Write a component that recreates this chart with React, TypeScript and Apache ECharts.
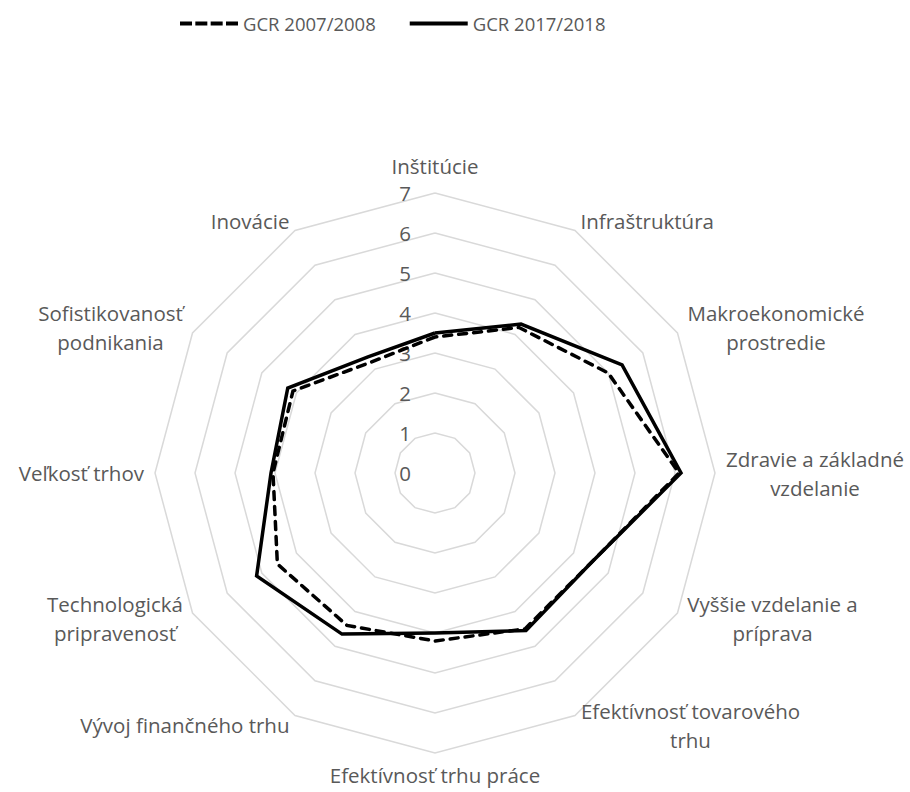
import React, { useEffect, useRef } from "react";
import * as echarts from "echarts";

// Indicators in clockwise order, starting at the top
const CATEGORIES = [
  "Inštitúcie",
  "Infraštruktúra",
  "Makroekonomické\nprostredie",
  "Zdravie a základné\nvzdelanie",
  "Vyššie vzdelanie a\npríprava",
  "Efektívnosť tovarového\ntrhu",
  "Efektívnosť trhu práce",
  "Vývoj finančného trhu",
  "Technologická\npripravenosť",
  "Veľkosť trhov",
  "Sofistikovanosť\npodnikania",
  "Inovácie",
];

const SERIES_NAMES = ["GCR 2007/2008", "GCR 2017/2018"];
const GCR_2007_2008 = [3.4, 4.2, 5.0, 6.1, 4.5, 4.5, 4.2, 4.4, 4.55, 4.05, 4.1, 3.2];
const GCR_2017_2018 = [3.5, 4.3, 5.4, 6.15, 4.5, 4.55, 4.0, 4.65, 5.15, 4.1, 4.25, 3.35];

const AXIS_MIN = 0;
const AXIS_MAX = 7;
const AXIS_SPLITS = 7;

const FONT = "Open Sans";
const LABEL_SIZE = 20.5;
const LEGEND_SIZE = 18.5;
const TEXT_COLOR = "#595959";

function measure(text: string, font: string): number {
  const ctx = document.createElement("canvas").getContext("2d");
  if (!ctx) return text.length * 10;
  ctx.font = font;
  return ctx.measureText(text).width;
}

export default function App() {
  const ref = useRef<HTMLDivElement>(null);

  useEffect(() => {
    document.body.style.margin = "0";
    if (!ref.current) return;
    const chart = echarts.init(ref.current, undefined, { renderer: "svg" });

    // ECharts lays indicators counter-clockwise; reorder to get a clockwise layout
    const order = CATEGORIES.map((_, i) => (i === 0 ? 0 : CATEGORIES.length - i));

    const labelFont = `${LABEL_SIZE}px "${FONT}"`;
    const baseText = { fontSize: LABEL_SIZE, fontFamily: FONT, color: TEXT_COLOR };
    const rich: Record<string, any> = {
      top: { ...baseText, lineHeight: 29, padding: [0, 0, 4, 0] },
      bot: { ...baseText, lineHeight: 21 },
    };
    const formatted: Record<string, string> = {};
    CATEGORIES.forEach((name, i) => {
      const lines = name.split("\n");
      if (lines.length === 1) {
        if (i === 0) formatted[name] = `{top|${name}}`;
        else if (i === 6) formatted[name] = `{bot|${name}}`;
        else formatted[name] = name;
        return;
      }
      const w = Math.ceil(Math.max(...lines.map((l) => measure(l, labelFont))));
      const key = "w" + w;
      rich[key] = { ...baseText, width: w, align: "center", lineHeight: 29 };
      formatted[name] = lines.map((l) => `{${key}|${l}}`).join("\n");
    });

    const indicator = order.map((idx, k) => {
      const ind: any = { name: CATEGORIES[idx], min: AXIS_MIN, max: AXIS_MAX };
      if (k === 0) {
        ind.axisLabel = {
          show: true,
          color: TEXT_COLOR,
          fontSize: LABEL_SIZE,
          fontFamily: FONT,
          margin: 24,
        };
      }
      return ind;
    });

    const dashIcon =
      "path://M0,0H12V4H0Z M15.33,0H27.33V4H15.33Z M30.67,0H42.67V4H30.67Z M46,0H58V4H46Z";

    chart.setOption({
      animation: false,
      color: ["#000000", "#000000"],
      legend: {
        left: 175,
        top: 9,
        itemWidth: 58,
        itemHeight: 4,
        itemGap: 34,
        textStyle: { color: TEXT_COLOR, fontSize: LEGEND_SIZE, fontFamily: FONT },
        itemStyle: { color: "#000000", borderWidth: 0, borderColor: "transparent" },
        data: [
          { name: SERIES_NAMES[0], icon: dashIcon },
          { name: SERIES_NAMES[1], icon: "rect" },
        ],
      },
      radar: {
        center: [435, 473],
        radius: 280,
        startAngle: 90,
        splitNumber: AXIS_SPLITS,
        shape: "polygon",
        nameGap: 11,
        axisName: {
          color: TEXT_COLOR,
          fontSize: LABEL_SIZE,
          fontFamily: FONT,
          lineHeight: 29,
          formatter: (name: string) => formatted[name] ?? name,
          rich,
        },
        indicator,
        axisLine: { show: false },
        axisTick: { show: false },
        axisLabel: { show: false },
        splitLine: { lineStyle: { color: "#d9d9d9", width: 1.5 } },
        splitArea: { show: false },
      },
      series: [
        {
          type: "radar",
          symbol: "none",
          data: [
            {
              name: SERIES_NAMES[0],
              value: order.map((i) => GCR_2007_2008[i]),
              lineStyle: {
                color: "#000000",
                width: 3.5,
                type: [8, 7],
                cap: "round",
                join: "miter",
              },
              itemStyle: { color: "#000000" },
            },
            {
              name: SERIES_NAMES[1],
              value: order.map((i) => GCR_2017_2018[i]),
              lineStyle: { color: "#000000", width: 3.5, type: "solid", join: "miter" },
              itemStyle: { color: "#000000" },
            },
          ],
        },
      ],
    });

    return () => chart.dispose();
  }, []);

  return <div ref={ref} style={{ width: 910, height: 792 }} />;
}
